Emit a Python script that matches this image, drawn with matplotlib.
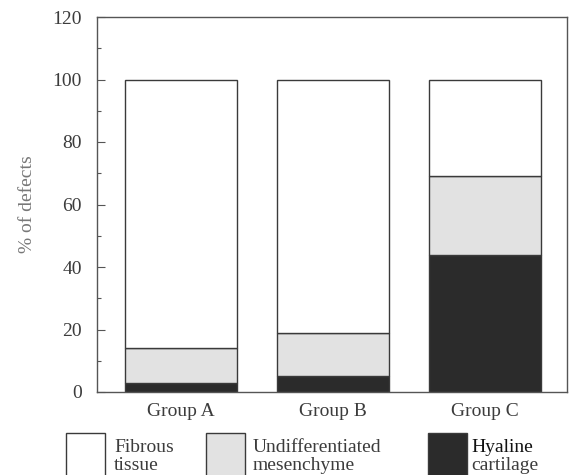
import matplotlib
matplotlib.use("Agg")
import matplotlib.pyplot as plt
from matplotlib.patches import Rectangle
from matplotlib.ticker import MultipleLocator

plt.rcParams['font.family'] = ['Liberation Serif', 'DejaVu Serif']

groups = ["Group A", "Group B", "Group C"]
hyaline = [3, 5, 44]
undifferentiated = [11, 14, 25]
fibrous = [86, 81, 31]

legend_labels = [("Fibrous", "tissue"), ("Undifferentiated", "mesenchyme"), ("Hyaline", "cartilage")]

c_fib = "#ffffff"
c_und = "#e2e2e2"
c_hya = "#2b2b2b"
edge = "#3a3a3a"
txt = "#3c3c3c"
fs = 14

fig = plt.figure(figsize=(5.72, 4.75), dpi=100)
ax = fig.add_axes([97 / 572, 1 - 392 / 475, (567 - 97) / 572, (392 - 17) / 475])

x = range(len(groups))
w = 0.74
bottom2 = [a + b for a, b in zip(hyaline, undifferentiated)]
ax.bar(x, hyaline, width=w, color=c_hya, edgecolor=edge, linewidth=1.0)
ax.bar(x, undifferentiated, width=w, bottom=hyaline, color=c_und, edgecolor=edge, linewidth=1.0)
ax.bar(x, fibrous, width=w, bottom=bottom2, color=c_fib, edgecolor=edge, linewidth=1.0)

ax.set_xlim(-0.553, 2.54)
ax.set_ylim(0, 120)
ax.yaxis.set_major_locator(MultipleLocator(20))
ax.yaxis.set_minor_locator(MultipleLocator(10))
ax.tick_params(axis='y', which='major', direction='in', length=6, width=0.8,
               color="#555555", labelsize=fs, labelcolor=txt, pad=11)
ax.tick_params(axis='y', which='minor', direction='in', length=3, width=0.8, color="#555555")
ax.set_xticks(list(x))
ax.set_xticklabels(groups)
ax.tick_params(axis='x', length=0, labelsize=fs, labelcolor=txt, pad=8)
for s in ax.spines.values():
    s.set_color("#555555")
    s.set_linewidth(1.0)
ax.set_ylabel("% of defects", fontsize=fs, color="#777777", labelpad=12)

# legend drawn as boxes with two-line captions below the axes
box_x = [66, 206, 428]
box_w = 39
text_x = [114, 253, 471]
H = 475.0
for bx, tx, col, (l1, l2) in zip(box_x, text_x, [c_fib, c_und, c_hya], legend_labels):
    fig.patches.append(Rectangle((bx / 572, 1 - 476 / H), box_w / 572, (476 - 433) / H,
                                 transform=fig.transFigure, facecolor=col,
                                 edgecolor=edge, linewidth=1.0))
    c1 = "#111111" if col == c_hya else txt
    fig.text(tx / 572, 1 - 452 / H, l1, fontsize=fs, color=c1, va='baseline', ha='left')
    fig.text(tx / 572, 1 - 470 / H, l2, fontsize=fs, color=txt, va='baseline', ha='left')

fig.savefig("out.png", dpi=100)
